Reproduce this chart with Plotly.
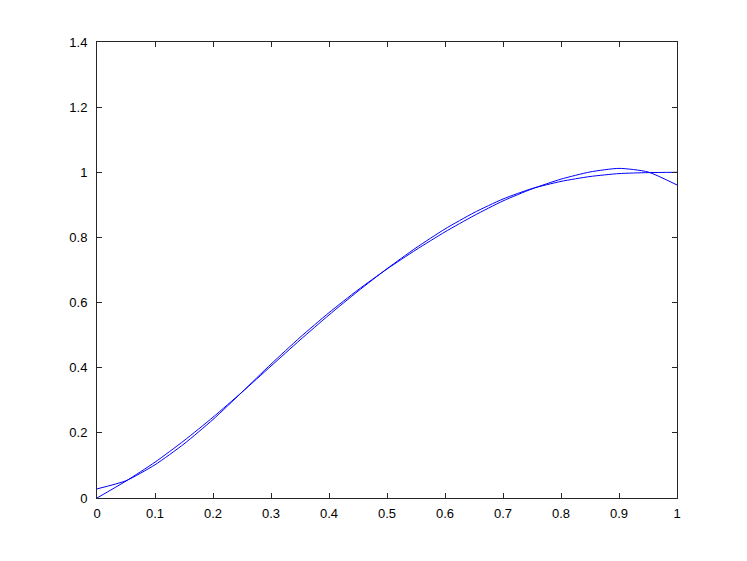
import plotly.graph_objects as go

# sample positions along x
x_vals = [0.0, 0.05, 0.1, 0.15, 0.2, 0.25, 0.3, 0.35, 0.4, 0.45, 0.5,
          0.55, 0.6, 0.65, 0.7, 0.75, 0.8, 0.85, 0.9, 0.95, 1.0]

# curve that starts at 0 and levels off at 1
exact_vals = [0.0, 0.052, 0.110, 0.176, 0.248, 0.325, 0.405, 0.485, 0.562, 0.635, 0.704,
              0.768, 0.826, 0.876, 0.918, 0.950, 0.972, 0.987, 0.996, 0.999, 1.0]

# approximating curve (wiggles around the first one)
approx_vals = [0.028, 0.053, 0.102, 0.166, 0.241, 0.325, 0.411, 0.493, 0.569, 0.639, 0.703,
               0.762, 0.817, 0.867, 0.912, 0.949, 0.979, 1.001, 1.012, 1.001, 0.961]

x_ticks = [0, 0.1, 0.2, 0.3, 0.4, 0.5, 0.6, 0.7, 0.8, 0.9, 1]
x_tick_text = ['0', '0.1', '0.2', '0.3', '0.4', '0.5', '0.6', '0.7', '0.8', '0.9', '1']
y_ticks = [0, 0.2, 0.4, 0.6, 0.8, 1, 1.2, 1.4]
y_tick_text = ['0', '0.2', '0.4', '0.6', '0.8', '1', '1.2', '1.4']

fig = go.Figure()

fig.add_trace(go.Scatter(
    x=x_vals, y=exact_vals, mode='lines',
    line=dict(color='#0000ff', width=1, shape='spline', smoothing=0.6),
    showlegend=False
))
fig.add_trace(go.Scatter(
    x=x_vals, y=approx_vals, mode='lines',
    line=dict(color='#0000ff', width=1, shape='spline', smoothing=0.6),
    showlegend=False
))

axis_style = dict(
    showgrid=False, zeroline=False,
    showline=True, linecolor='#262626', linewidth=1,
    mirror='ticks', ticks='inside', ticklen=5, tickcolor='#262626',
    tickfont=dict(family='Liberation Sans, Arial, sans-serif', size=13, color='black'),
)

fig.update_xaxes(range=[0, 1], tickvals=x_ticks, ticktext=x_tick_text,
                 ticklabelstandoff=3, **axis_style)
fig.update_yaxes(range=[0, 1.4], tickvals=y_ticks, ticktext=y_tick_text,
                 ticklabelstandoff=6, **axis_style)

# page body has an 8px margin, so the figure is shrunk to fit the window
fig.update_layout(
    width=739, height=553,
    margin=dict(l=89, r=70, t=34, b=63),
    plot_bgcolor='white', paper_bgcolor='white',
)

fig.write_html("out.html")
